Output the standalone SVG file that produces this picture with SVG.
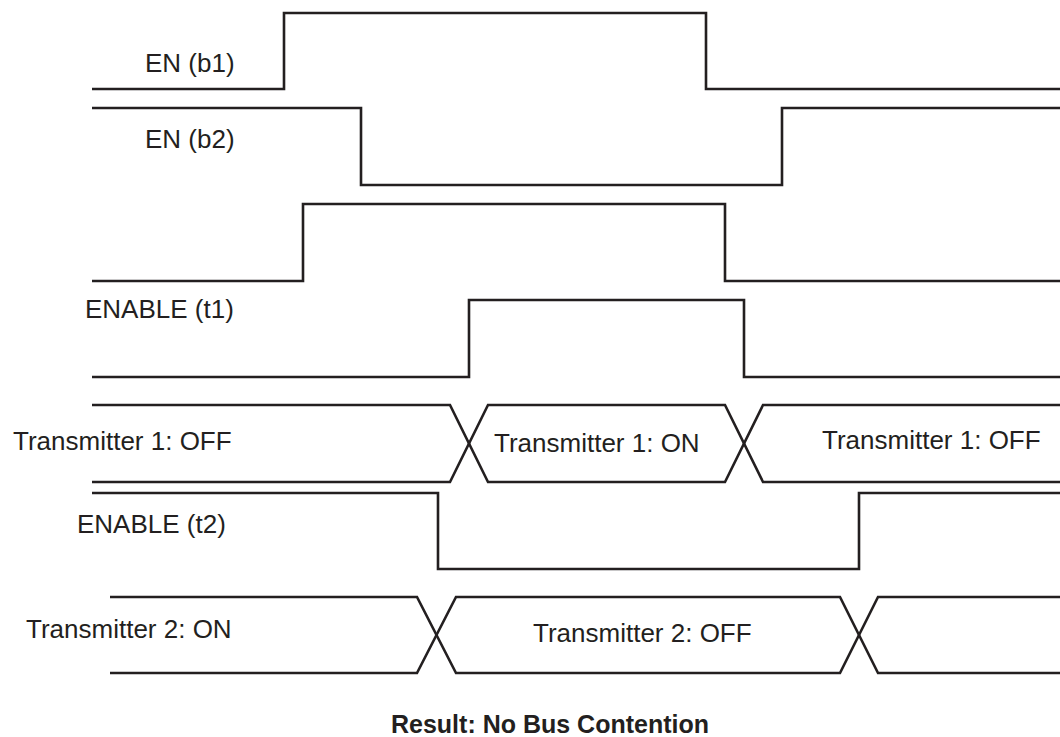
<svg xmlns="http://www.w3.org/2000/svg" width="1060" height="737" viewBox="0 0 1060 737">
<style>
.w{fill:none;stroke:#231f20;stroke-width:2.6;stroke-linejoin:miter;stroke-linecap:butt}
.t{font-family:"Liberation Sans",Arial,sans-serif;font-size:26px;fill:#231f20}
.b{font-family:"Liberation Sans",Arial,sans-serif;font-size:25px;font-weight:bold;fill:#231f20}
</style>
<rect width="1060" height="737" fill="#ffffff"/>
<g id="connectors">
<path class="w" d="M92 89 H284 V13 H706 V89 H1060"/>
<path class="w" d="M92 108 H361 V185 H782 V108 H1060"/>
<path class="w" d="M92 281 H303 V204 H725 V281 H1060"/>
<path class="w" d="M92 377 H469 V300 H744 V377 H1060"/>
<path class="w" d="M92 405 H450 L488 482 H725 L763 405 H1060"/>
<path class="w" d="M92 482 H450 L488 405 H725 L763 482 H1060"/>
<path class="w" d="M92 493 H438 V569 H859 V493 H1060"/>
<path class="w" d="M110 597 H417 L456 673 H840 L878 597 H1060"/>
<path class="w" d="M110 673 H417 L456 597 H840 L878 673 H1060"/>
</g>
<g id="label-en-b1"><text class="t" x="145" y="72">EN (b1)</text></g>
<g id="label-en-b2"><text class="t" x="145" y="148">EN (b2)</text></g>
<g id="label-enable-t1"><text class="t" x="85" y="318">ENABLE (t1)</text></g>
<g id="label-tx1-off-a"><text class="t" x="13" y="450">Transmitter 1: OFF</text></g>
<g id="label-tx1-on"><text class="t" x="494" y="452">Transmitter 1: ON</text></g>
<g id="label-tx1-off-b"><text class="t" x="822" y="449">Transmitter 1: OFF</text></g>
<g id="label-enable-t2"><text class="t" x="77" y="533">ENABLE (t2)</text></g>
<g id="label-tx2-on"><text class="t" x="26" y="638">Transmitter 2: ON</text></g>
<g id="label-tx2-off"><text class="t" x="533" y="642">Transmitter 2: OFF</text></g>
<g id="label-result"><text class="b" x="550" y="733" text-anchor="middle">Result: No Bus Contention</text></g>
</svg>
